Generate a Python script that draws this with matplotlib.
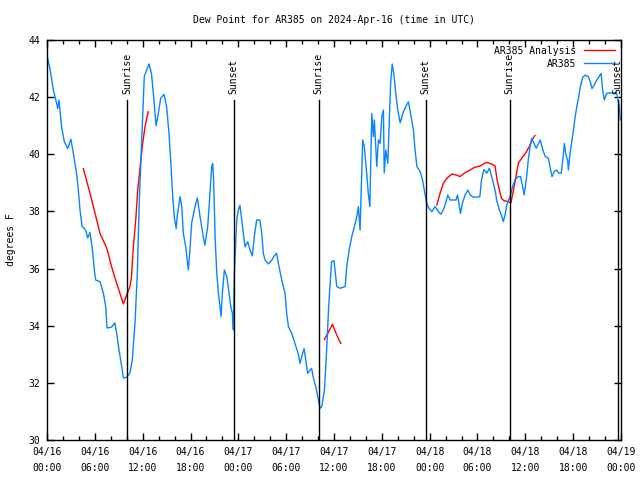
import numpy as np
import matplotlib
matplotlib.use("Agg")
import matplotlib.pyplot as plt

# hours since 2024-04-16 00:00 UTC
blue_h = [0.0, 0.4, 0.8, 1.2, 1.35, 1.5, 1.84, 2.17, 2.6, 3.0, 3.3, 3.7, 3.93, 4.14, 4.4, 4.7,
          4.9, 5.1, 5.4, 5.7, 5.94, 6.1, 6.65, 7.07, 7.36, 7.53, 8.1, 8.5, 8.74, 9.03, 9.37, 9.58,
          10.0, 10.4, 10.7, 11.04, 11.33, 11.58, 11.8, 12.0, 12.2, 12.5, 12.8, 13.1, 13.34, 13.68,
          13.97, 14.26, 14.68, 15.0, 15.3, 15.56, 15.77, 15.97, 16.2, 16.35, 16.7, 16.9, 17.1, 17.4,
          17.73, 17.9, 18.15, 18.57, 18.86, 19.2, 19.6, 19.8, 20.16, 20.36, 20.66, 20.78, 20.9, 21.1,
          21.3, 21.5, 21.7, 21.83, 22.0, 22.25, 22.55, 22.84, 23.05, 23.25, 23.38, 23.5, 23.68, 23.8,
          24.0, 24.2, 24.43, 24.63, 24.84, 25.18, 25.47, 25.76, 26.0, 26.3, 26.7, 26.94, 27.14, 27.35,
          27.77, 28.2, 28.5, 28.8, 29.1, 29.45, 29.86, 30.07, 30.28, 30.7, 31.1, 31.5, 31.74, 31.95,
          32.25, 32.46, 32.7, 33.0, 33.2, 33.4, 33.6, 33.84, 34.04, 34.25, 34.47, 34.8, 35.1, 35.3,
          35.45, 35.7, 36.0, 36.35, 36.76, 37.4, 37.6, 37.9, 38.23, 38.56, 38.86, 39.06, 39.27, 39.48,
          39.6, 39.8, 40.1, 40.3, 40.5, 40.74, 40.94, 41.06, 41.37, 41.57, 41.78, 42.0, 42.2, 42.3,
          42.5, 42.75, 42.9, 43.1, 43.3, 43.5, 43.75, 44.0, 44.3, 44.7, 45.0, 45.33, 45.67, 45.96,
          46.17, 46.4, 46.8, 47.1, 47.4, 47.64, 47.93, 48.27, 48.68, 49.1, 49.4, 49.7, 50.0, 50.27,
          50.56, 50.98, 51.3, 51.5, 51.7, 51.86, 52.1, 52.45, 52.8, 53.07, 53.5, 54.3, 54.5, 54.8,
          55.15, 55.5, 55.78, 56.2, 56.4, 56.74, 57.0, 57.24, 57.45, 57.67, 57.9, 58.1, 58.4, 58.7,
          59.1, 59.4, 59.66, 59.86, 60.16, 60.37, 60.6, 60.8, 61.1, 61.36, 61.65, 61.86, 62.2, 62.5,
          62.9, 63.13, 63.35, 63.64, 63.9, 64.2, 64.5, 64.7, 64.9, 65.1, 65.3, 65.4, 65.6, 65.85,
          66.04, 66.25, 66.46, 66.7, 66.9, 67.2, 67.5, 67.9, 68.15, 68.36, 68.65, 68.97, 69.3, 69.5,
          69.7, 69.9, 70.2, 70.6, 71.45, 71.8, 71.9]
blue_v = [43.47, 42.95, 42.25, 41.8, 41.6, 41.9, 40.95, 40.44, 40.2, 40.53, 40.04, 39.34, 38.75, 38.05, 37.47, 37.4,
          37.3, 37.07, 37.26, 36.65, 35.95, 35.6, 35.54, 35.14, 34.67, 33.92, 33.95, 34.1, 33.74, 33.15, 32.57, 32.17,
          32.2, 32.34, 32.8, 34.1, 35.84, 38.4, 39.9, 41.2, 42.72, 42.95, 43.16, 42.83, 42.13, 41.0,
          41.44, 41.96, 42.1, 41.67, 40.74, 39.57, 38.52, 37.8, 37.4, 37.87, 38.52, 38.17, 37.24, 36.76,
          35.95, 36.54, 37.6, 38.17, 38.47, 37.82, 37.12, 36.82, 37.47, 38.28, 39.57, 39.68, 39.1, 37.0,
          35.83, 35.14, 34.67, 34.32, 35.14, 35.95, 35.72, 35.14, 34.67, 34.44, 33.85, 35.84, 37.0, 37.7,
          38.05, 38.22, 37.7, 37.23, 36.76, 36.94, 36.65, 36.44, 37.12, 37.7, 37.7, 37.23, 36.53, 36.3,
          36.16, 36.3, 36.44, 36.54, 36.07, 35.6, 35.13, 34.43, 33.97, 33.73, 33.38, 33.03, 32.68, 32.92,
          33.2, 32.8, 32.33, 32.45, 32.5, 32.2, 31.98, 31.7, 31.4, 31.11, 31.17, 31.75, 33.27, 34.5,
          35.2, 36.24, 36.28, 35.37, 35.31, 35.37, 36.07, 36.65, 37.12, 37.47, 37.82, 38.17, 37.35, 39.34,
          40.5, 40.27, 39.34, 38.63, 38.17, 41.43, 40.62, 41.2, 39.57, 40.5, 40.38, 41.32, 41.55, 39.34,
          40.15, 39.68, 40.85, 42.48, 43.16, 42.83, 42.13, 41.55, 41.1, 41.49, 41.67, 41.84, 41.32, 40.85,
          40.15, 39.57, 39.4, 39.1, 38.63, 38.28, 38.1, 37.99, 38.17, 37.99, 37.9, 38.05, 38.28, 38.58,
          38.4, 38.4, 38.4, 38.58, 38.22, 37.93, 38.28, 38.58, 38.75, 38.58, 38.49, 38.52, 39.1, 39.47,
          39.34, 39.51, 39.22, 38.75, 38.4, 38.05, 37.87, 37.64, 37.87, 38.22, 38.4, 38.52, 38.87, 39.1,
          39.22, 39.22, 38.87, 38.58, 39.22, 39.8, 40.27, 40.56, 40.38, 40.21, 40.38, 40.5, 40.15, 39.92,
          39.86, 39.51, 39.22, 39.4, 39.45, 39.34, 39.34, 39.8, 40.38, 39.97, 39.8, 39.45, 40.03, 40.5,
          40.85, 41.32, 41.67, 42.02, 42.37, 42.7, 42.77, 42.72, 42.54, 42.3, 42.43, 42.6, 42.74, 42.83,
          42.25, 41.9, 42.13, 42.15, 42.15, 41.67, 41.2]

# analysis series, NaN separates segments
red_h = [4.56, 5.4, 6.24, 6.65, 7.5, 8.1, 8.74, 9.28, 9.58, 10.0, 10.4, 10.6, 10.83, 11.13, 11.38,
         11.6, 11.8, 12.0, 12.3, 12.5, 12.7, np.nan,
         34.8, 35.3, 35.8, 36.35, 36.85, np.nan,
         48.9, 49.3, 49.7, 50.15, 50.8, 51.4, 51.8, 52.45, 53.07, 53.6, 54.3, 55.13, 55.75, 56.2,
         56.46, 56.8, 57.0, 57.3, 57.85, 58.2, 58.35, 58.6, 58.9, 59.14, 59.65, 60.07, 60.5, 60.85, 61.2]
red_v = [39.5, 38.63, 37.7, 37.23, 36.71, 36.07, 35.48, 35.02, 34.76, 35.08, 35.37, 35.72, 36.76, 37.7, 38.75,
         39.34, 39.86, 40.38, 40.97, 41.26, 41.49, np.nan,
         33.52, 33.77, 34.05, 33.67, 33.38, np.nan,
         38.22, 38.63, 38.98, 39.16, 39.31, 39.27, 39.22, 39.36, 39.45, 39.54, 39.59, 39.72, 39.66, 39.59,
         39.1, 38.69, 38.46, 38.38, 38.34, 38.3, 38.52, 38.87, 39.34, 39.7, 39.9, 40.06, 40.27, 40.5, 40.66]

sun_h = [10.06, 23.42, 34.06, 47.5, 58.05, 71.58]
sun_names = ["Sunrise", "Sunset", "Sunrise", "Sunset", "Sunrise", "Sunset"]

tick_h = [0, 6, 12, 18, 24, 30, 36, 42, 48, 54, 60, 66, 72]
tick_labels = ["04/16\n00:00", "04/16\n06:00", "04/16\n12:00", "04/16\n18:00",
               "04/17\n00:00", "04/17\n06:00", "04/17\n12:00", "04/17\n18:00",
               "04/18\n00:00", "04/18\n06:00", "04/18\n12:00", "04/18\n18:00",
               "04/19\n00:00"]

plt.rcParams['font.family'] = ['DejaVu Sans Mono']
plt.rcParams['font.size'] = 7

fig = plt.figure(figsize=(6.4, 4.8), dpi=100)
ax = fig.add_axes([47 / 640, 40 / 480, 574 / 640, 400 / 480])

ax.plot(red_h, red_v, color='#ff0000', lw=1, label='AR385 Analysis')
ax.plot(blue_h, blue_v, color='#0a84ff', lw=1, label='AR385')

for h, name in zip(sun_h, sun_names):
    ax.plot([h, h], [30, 41.9], color='black', lw=1)
    ax.text(h, 42.1, name, rotation=90, ha='center', va='bottom', fontsize=7)

ax.set_xlim(0, 72)
ax.set_ylim(30, 44)
ax.set_xticks(tick_h)
ax.set_xticklabels(tick_labels, linespacing=1.7)
ax.set_xticks(np.arange(0, 73, 2), minor=True)
ax.set_yticks(np.arange(30, 45, 2))
ax.tick_params(which='both', direction='in', top=True, right=True, width=1)
ax.tick_params(which='major', length=5, pad=5)
ax.tick_params(which='minor', length=3)
for s in ax.spines.values():
    s.set_linewidth(1)

ax.set_ylabel('degrees F', labelpad=9)
ax.set_title('Dew Point for AR385 on 2024-Apr-16 (time in UTC)', fontsize=7, pad=12)

ax.legend(loc='upper right', frameon=False, markerfirst=False, handlelength=3.2,
          borderaxespad=0.2, labelspacing=0.3, handletextpad=0.8)

fig.savefig('out.png', dpi=100)
